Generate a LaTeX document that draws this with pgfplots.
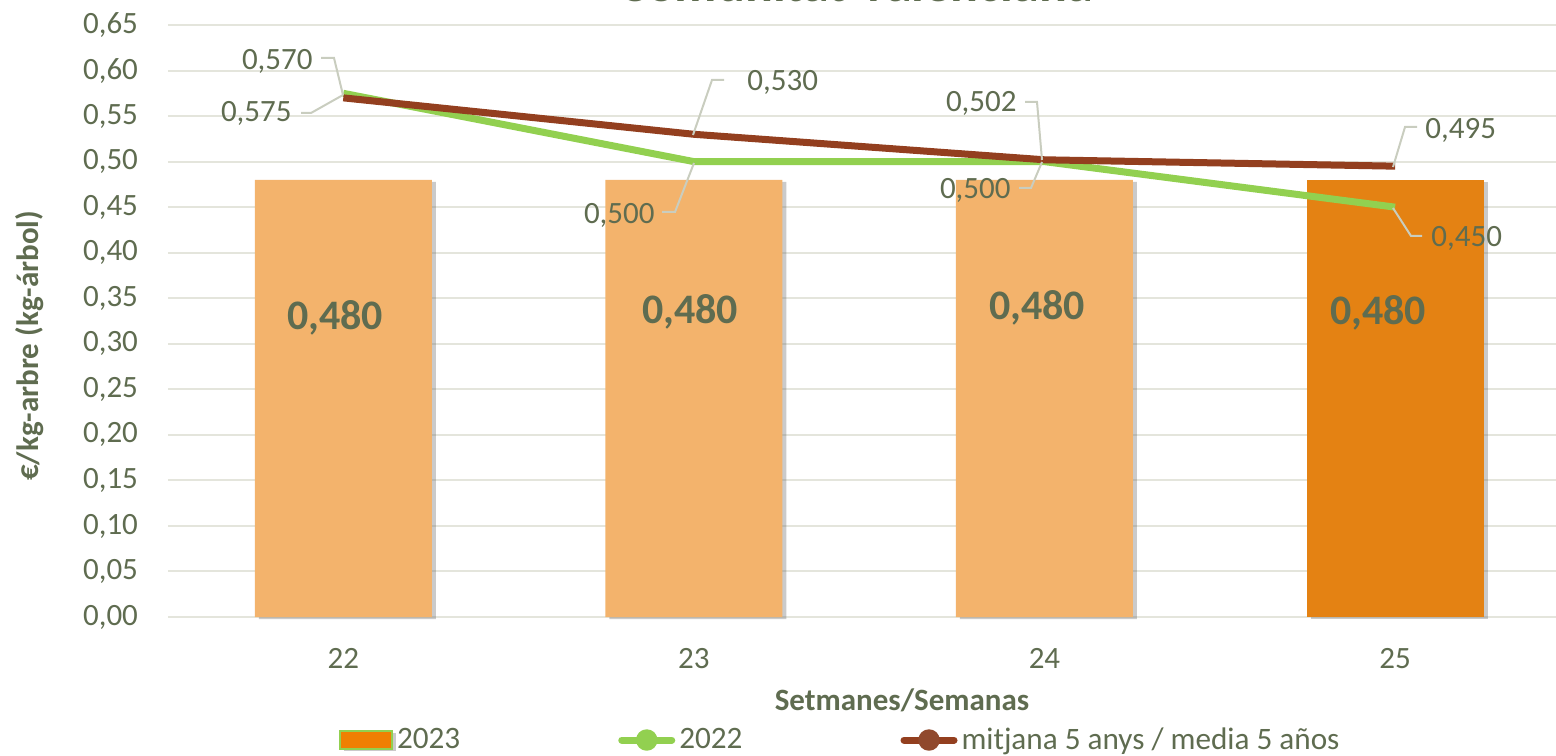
\documentclass[border=0pt]{standalone}
\usepackage{fontspec}
\setmainfont{Carlito}
\usepackage{pgfplots}
\pgfplotsset{compat=1.18}
\usetikzlibrary{shadows}
\definecolor{textc}{HTML}{5F6C50}
\definecolor{gridc}{HTML}{E4E5DC}
\definecolor{lightor}{HTML}{F3B36C}
\definecolor{darkor}{HTML}{E48213}
\definecolor{legor}{HTML}{F07F02}
\definecolor{greenl}{HTML}{92D050}
\definecolor{brownl}{HTML}{933F1F}
\definecolor{leadc}{HTML}{C9CDBF}
\begin{document}
\begin{tikzpicture}
\begin{axis}[
  at={(0,0)}, anchor=south west,
  scale only axis, width=694pt, height=296pt,
  xmin=-0.5, xmax=3.459, ymin=0, ymax=0.65,
  axis line style={draw=none}, tick style={draw=none},
  ytick={0,0.05,0.10,0.15,0.20,0.25,0.30,0.35,0.40,0.45,0.50,0.55,0.60,0.65},
  ymajorgrids, grid style={color=gridc, line width=1pt},
  xtick={0,1,2,3}, xticklabels={22,23,24,25},
  yticklabel style={/pgf/number format/fixed, /pgf/number format/fixed zerofill, /pgf/number format/precision=2, /pgf/number format/use comma, /pgf/number format/assume math mode=true, xshift=-11.5pt},
  ticklabel style={font=\fontsize{15.5}{18}\selectfont, text=textc},
  xticklabel style={yshift=-12pt},
  clip=false,
  ylabel={€/kg-arbre (kg-árbol)},
  ylabel style={at={(axis description cs:-0.0994,0.458)}, anchor=center, font=\fontsize{15.5}{18}\selectfont\bfseries, text=textc},
  xlabel={Setmanes/Semanas},
  xlabel style={at={(axis description cs:0.5288,-0.1402)}, anchor=center, font=\fontsize{15.5}{18}\selectfont\bfseries, text=textc},
  legend columns=3,
  legend style={at={(axis description cs:0.1232,-0.2078)}, anchor=west, draw=none, fill=none, inner sep=0pt, outer sep=0pt,
    font=\fontsize{15.6}{18}\selectfont, text=textc,
    /tikz/every odd column/.append style={column sep=2pt},
    /tikz/every even column/.append style={column sep=79pt},
    nodes={inner sep=0pt}},
]
\addplot[ybar, bar width=88.5pt, bar shift=0pt, fill=lightor, draw=none, forget plot,
  drop shadow={shadow xshift=2pt, shadow yshift=-1pt, opacity=0.35, fill=black!60}]
  coordinates {(0,0.48) (1,0.48) (2,0.48)};
\addplot[ybar, bar width=88.5pt, bar shift=0pt, fill=darkor, draw=none,
  drop shadow={shadow xshift=2pt, shadow yshift=-1pt, opacity=0.35, fill=black!60},
  legend image code/.code={\draw[fill=legor, draw=greenl, line width=1pt] (0pt,-4.5pt) rectangle (26pt,4.5pt);}]
  coordinates {(3,0.48)};
\addlegendentry{2023}
\addplot[greenl, line width=3.5pt, line join=round, no markers,
  legend image code/.code={\draw[greenl, line width=3.5pt, line cap=round] (1.75pt,0pt)--(26.75pt,0pt); \fill[greenl] (14.25pt,0pt) circle (3.6pt);}]
  coordinates {(0,0.575) (1,0.500) (2,0.500) (3,0.450)};
\addlegendentry{2022}
\addplot[brownl, line width=3.5pt, line join=round, no markers,
  legend image code/.code={\draw[brownl, line width=3.5pt, line cap=round] (1.75pt,0pt)--(26.75pt,0pt); \fill[brownl!85!gray] (14.25pt,0pt) circle (3.6pt);}]
  coordinates {(0,0.570) (1,0.530) (2,0.502) (3,0.495)};
\addlegendentry{mitjana 5 anys / media 5 años}
\end{axis}
\begin{scope}[x=0.5pt, y=-0.5pt, shift={(-84pt,308.5pt)}]
  % title (mostly above the page, as in the reference)
  \node[anchor=base, font=\fontsize{26}{30}\selectfont\bfseries, text=textc, inner sep=0pt] at (856,1.2) {Comunitat Valenciana};
  % bar labels
  \begin{scope}[every node/.style={font=\fontsize{21}{24}\selectfont\bfseries, text=textc, inner sep=0pt}]
    \node at (335,318) {0,480};
    \node at (690,312) {0,480};
    \node at (1037,308) {0,480};
    \node at (1378,313) {0,480};
  \end{scope}
  % leader lines
  \begin{scope}[leadc, line width=1pt]
    \draw (321,58) -- (334,58) -- (343,95);
    \draw (301,113) -- (311,113) -- (343,95);
    \draw (724,80) -- (712,80) -- (693,135);
    \draw (662,212) -- (675,212) -- (694,163);
    \draw (1025,102) -- (1037,102) -- (1042,160);
    \draw (1019,188) -- (1031,188) -- (1042,162);
    \draw (1417,127) -- (1405,127) -- (1393,167);
    \draw (1393,208) -- (1411,236) -- (1422,236);
  \end{scope}
  % data labels
  \begin{scope}[every node/.style={font=\fontsize{15.5}{18}\selectfont, text=textc, inner sep=0pt}]
    \node[anchor=east] at (313,61) {0,570};
    \node[anchor=east] at (292,113) {0,575};
    \node[anchor=west] at (747,82) {0,530};
    \node[anchor=east] at (655,215) {0,500};
    \node[anchor=east] at (1017,103) {0,502};
    \node[anchor=east] at (1011,190) {0,500};
    \node[anchor=west] at (1425,130) {0,495};
    \node[anchor=west] at (1431,238) {0,450};
  \end{scope}
\end{scope}
\pgfresetboundingbox
\path[use as bounding box] (-84pt,-69pt) rectangle (694pt,308.5pt);
\end{tikzpicture}
\end{document}
